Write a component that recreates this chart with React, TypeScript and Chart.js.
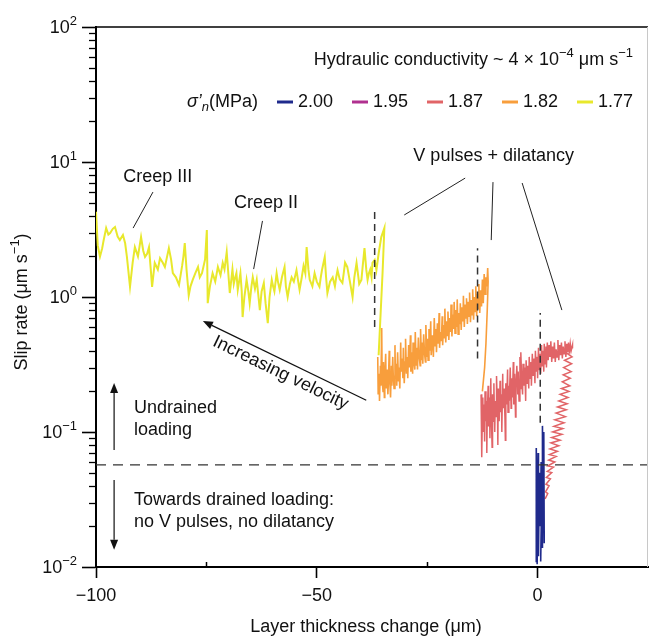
import { useEffect, useRef } from 'react';
import { Chart, registerables } from 'chart.js';

Chart.register(...registerables);

type Pt = [number, number];

// ---- data ----
const seriesLabels = ['2.00', '1.95', '1.87', '1.82', '1.77'];
const seriesColors = ['#1f2a8c', '#b0308f', '#e16467', '#f89e3c', '#e8e82c'];

const trace200: Pt[] = [
  [-0.2, 0.011], [-0.3, 0.076], [-0.1, 0.0105], [0.1, 0.07], [0.2, 0.012], [0.4, 0.05],
  [0.6, 0.02], [0.8, 0.06], [1.0, 0.014], [1.1, 0.111], [1.3, 0.02], [1.4, 0.1],
  [1.5, 0.015], [1.2, 0.08], [0.9, 0.03], [0.7, 0.011],
];

const trace195: Pt[] = [];

const trace187: Pt[] = [
  [-12.8, 0.19], [-12.7, 0.09], [-12.6, 0.065], [-12.5, 0.14], [-12.4, 0.18], [-12.3, 0.1],
  [-12.1, 0.16], [-12.0, 0.085], [-11.9, 0.2], [-11.7, 0.12], [-11.6, 0.17], [-11.5, 0.07],
  [-11.4, 0.13], [-11.2, 0.22], [-11.1, 0.11], [-10.9, 0.18], [-10.8, 0.09], [-10.6, 0.25],
  [-10.5, 0.14], [-10.3, 0.077], [-10.2, 0.19], [-10.0, 0.12], [-9.9, 0.23], [-9.7, 0.1],
  [-9.6, 0.17], [-9.4, 0.13], [-9.3, 0.26], [-9.1, 0.15], [-9.0, 0.08], [-8.9, 0.21],
  [-8.7, 0.12], [-8.5, 0.24], [-8.4, 0.14], [-8.2, 0.19], [-8.1, 0.1], [-7.9, 0.27],
  [-7.8, 0.15], [-7.6, 0.21], [-7.4, 0.13], [-7.3, 0.087], [-7.2, 0.23], [-7.0, 0.16],
  [-6.8, 0.29], [-6.7, 0.14], [-6.5, 0.22], [-6.4, 0.17], [-6.2, 0.3], [-6.0, 0.15],
  [-5.9, 0.25], [-5.7, 0.18], [-5.5, 0.33], [-5.4, 0.16], [-5.2, 0.27], [-5.0, 0.129],
  [-4.9, 0.22], [-4.7, 0.31], [-4.5, 0.19], [-4.4, 0.28], [-4.2, 0.17], [-4.0, 0.36],
  [-3.9, 0.21], [-3.8, 0.39], [-3.6, 0.24], [-3.4, 0.19], [-3.3, 0.32], [-3.1, 0.22],
  [-2.9, 0.3], [-2.7, 0.17], [-2.6, 0.34], [-2.4, 0.23], [-2.2, 0.31], [-2.0, 0.21],
  [-1.9, 0.36], [-1.7, 0.25], [-1.5, 0.33], [-1.4, 0.22], [-1.2, 0.38], [-1.0, 0.26],
  [-0.8, 0.35], [-0.6, 0.23], [-0.5, 0.4], [-0.3, 0.28], [-0.1, 0.36], [0.0, 0.25],
  [0.2, 0.42], [0.4, 0.29], [0.5, 0.38], [0.7, 0.27], [0.9, 0.44], [1.0, 0.31],
  [1.2, 0.4], [1.4, 0.28], [1.5, 0.45], [1.7, 0.32], [1.9, 0.43], [2.0, 0.3],
  [2.2, 0.46], [2.4, 0.34], [2.6, 0.44],
  [2.8, 0.36], [3.0, 0.47], [3.2, 0.33], [3.4, 0.43], [3.6, 0.35], [3.8, 0.46],
  [4.0, 0.33], [4.2, 0.41], [4.4, 0.36], [4.6, 0.48], [4.8, 0.34], [5.0, 0.44],
  [5.2, 0.37], [5.4, 0.46], [5.6, 0.35], [5.8, 0.43], [6.0, 0.38], [6.2, 0.47],
  [6.4, 0.36], [6.6, 0.45], [6.8, 0.39], [7.0, 0.46], [7.2, 0.38], [7.4, 0.45],
  [7.6, 0.4], [7.9, 0.44],
  [7.9, 0.42], [6.3, 0.39], [7.8, 0.36], [6.1, 0.34], [7.7, 0.32], [5.9, 0.3],
  [7.6, 0.28], [5.8, 0.265], [7.4, 0.25], [5.6, 0.235], [7.3, 0.22], [5.4, 0.21],
  [7.1, 0.2], [5.1, 0.19], [6.9, 0.18], [4.8, 0.17], [6.7, 0.162], [4.5, 0.153],
  [6.5, 0.146], [4.2, 0.138], [6.3, 0.13], [3.9, 0.123], [6.0, 0.117], [3.7, 0.11],
  [5.7, 0.106], [3.4, 0.1], [5.5, 0.096], [3.2, 0.091], [5.1, 0.087], [3.0, 0.083],
  [4.8, 0.079], [2.8, 0.075], [4.5, 0.072], [2.7, 0.068], [4.2, 0.066], [2.5, 0.062],
  [3.9, 0.06], [2.3, 0.056], [3.6, 0.055], [2.2, 0.051], [3.2, 0.05], [2.0, 0.046],
  [2.9, 0.045], [1.9, 0.041], [2.6, 0.04], [1.8, 0.036], [2.3, 0.035], [1.7, 0.032],
];

const trace182: Pt[] = [
  [-36.2, 0.36], [-36.1, 0.19], [-35.9, 0.27], [-35.8, 0.17], [-35.6, 0.31], [-35.5, 0.22],
  [-35.3, 0.59], [-35.2, 0.24], [-35.0, 0.2], [-34.9, 0.33], [-34.7, 0.18], [-34.6, 0.26],
  [-34.4, 0.38], [-34.3, 0.21], [-34.1, 0.29], [-33.9, 0.19], [-33.8, 0.23], [-33.6, 0.4],
  [-33.5, 0.25], [-33.3, 0.18], [-33.1, 0.31], [-33.0, 0.22], [-32.8, 0.36], [-32.7, 0.27],
  [-32.5, 0.21], [-32.3, 0.44], [-32.2, 0.26], [-32.0, 0.32], [-31.9, 0.22], [-31.7, 0.39],
  [-31.5, 0.24], [-31.4, 0.3], [-31.2, 0.21], [-31.0, 0.46], [-30.9, 0.28], [-30.7, 0.35],
  [-30.5, 0.25], [-30.4, 0.42], [-30.2, 0.23], [-30.0, 0.33], [-29.9, 0.49], [-29.7, 0.27],
  [-29.5, 0.36], [-29.4, 0.25], [-29.2, 0.44], [-29.0, 0.3], [-28.8, 0.52], [-28.7, 0.28],
  [-28.5, 0.39], [-28.3, 0.27], [-28.2, 0.46], [-28.0, 0.33], [-27.8, 0.29], [-27.7, 0.55],
  [-27.5, 0.31], [-27.3, 0.42], [-27.2, 0.29], [-27.0, 0.5], [-26.8, 0.36], [-26.6, 0.31],
  [-26.5, 0.58], [-26.3, 0.34], [-26.1, 0.46], [-26.0, 0.32], [-25.8, 0.53], [-25.6, 0.38],
  [-25.4, 0.33], [-25.3, 0.62], [-25.1, 0.36], [-24.9, 0.49], [-24.8, 0.34], [-24.6, 0.58],
  [-24.4, 0.4], [-24.2, 0.66], [-24.1, 0.37], [-23.9, 0.52], [-23.7, 0.42], [-23.6, 0.36],
  [-23.4, 0.7], [-23.2, 0.43], [-23.0, 0.58], [-22.9, 0.39], [-22.7, 0.64], [-22.5, 0.45],
  [-22.3, 0.76], [-22.2, 0.42], [-22.0, 0.55], [-21.8, 0.47], [-21.6, 0.72], [-21.5, 0.44],
  [-21.3, 0.62], [-21.1, 0.5], [-21.0, 0.82], [-20.8, 0.46], [-20.6, 0.66], [-20.4, 0.52],
  [-20.3, 0.78], [-20.1, 0.48], [-19.9, 0.7], [-19.7, 0.55], [-19.6, 0.88], [-19.4, 0.51],
  [-19.2, 0.74], [-19.0, 0.58], [-18.9, 0.92], [-18.7, 0.54], [-18.5, 0.8], [-18.3, 0.6],
  [-18.2, 0.96], [-18.0, 0.53], [-17.8, 0.76], [-17.6, 0.63], [-17.5, 0.9], [-17.3, 0.57],
  [-17.1, 0.84], [-16.9, 0.66], [-16.8, 1.02], [-16.6, 0.6], [-16.4, 0.88], [-16.2, 0.7],
  [-16.1, 0.98], [-15.9, 0.63], [-15.7, 0.92], [-15.5, 0.72], [-15.4, 1.08], [-15.2, 0.65],
  [-15.0, 0.95], [-14.8, 0.74], [-14.7, 1.14], [-14.5, 0.68], [-14.3, 1.0], [-14.1, 0.78],
  [-14.0, 1.2], [-13.8, 0.72], [-13.6, 1.05], [-13.4, 0.82], [-13.3, 1.25], [-13.1, 0.76],
  [-12.9, 1.12], [-12.7, 0.85], [-12.5, 1.35], [-12.3, 0.9], [-12.1, 1.48], [-11.9, 1.05],
  [-11.7, 1.4], [-11.5, 1.2], [-11.3, 1.64], [-11.2, 1.3], [-11.4, 0.8], [-11.7, 0.45],
  [-12.0, 0.3], [-12.5, 0.2],
];

const trace177: Pt[] = [
  [-100.0, 4.28], [-99.6, 2.4], [-99.1, 1.99], [-98.6, 2.3], [-98.3, 2.6], [-97.7, 3.24],
  [-97.2, 2.9], [-96.8, 2.98], [-96.2, 3.2], [-95.7, 3.3], [-95.1, 2.8], [-94.6, 2.64],
  [-93.9, 2.88], [-93.4, 2.5], [-93.0, 1.98], [-92.3, 1.19], [-91.7, 1.8], [-91.2, 2.34],
  [-90.5, 2.0], [-89.8, 2.78], [-89.3, 2.2], [-88.9, 1.98], [-88.4, 2.1], [-88.0, 2.34],
  [-87.6, 1.6], [-87.3, 1.19], [-86.7, 1.79], [-86.0, 1.6], [-85.5, 1.94], [-84.9, 1.8],
  [-84.4, 1.67], [-83.5, 2.3], [-83.0, 1.9], [-82.6, 1.5], [-81.9, 1.4], [-81.2, 1.23],
  [-80.5, 1.7], [-80.2, 2.0], [-79.9, 2.51], [-79.5, 1.6], [-79.0, 1.03], [-78.6, 1.2],
  [-78.1, 1.34], [-77.5, 1.5], [-76.9, 1.67], [-76.5, 1.4], [-76.0, 1.5], [-75.3, 1.9],
  [-74.9, 3.13], [-74.7, 0.9], [-74.2, 1.2], [-73.6, 1.5], [-73.0, 1.3], [-72.4, 1.67],
  [-71.8, 1.45], [-71.3, 1.79], [-70.9, 1.6], [-70.4, 2.15], [-69.7, 1.07], [-69.1, 1.6],
  [-68.8, 1.25], [-68.6, 1.34], [-68.2, 1.5], [-67.9, 1.13], [-67.6, 1.3], [-67.3, 1.5],
  [-67.0, 1.1], [-66.8, 0.71], [-66.4, 1.0], [-65.9, 1.34], [-65.5, 1.1], [-65.2, 0.9],
  [-64.8, 1.2], [-64.5, 1.4], [-64.0, 1.15], [-63.6, 1.34], [-63.2, 1.0], [-62.9, 0.8],
  [-62.5, 1.1], [-62.0, 1.27], [-61.6, 0.9], [-61.1, 0.64], [-60.7, 1.0], [-60.2, 1.34],
  [-59.9, 1.2], [-59.6, 1.1], [-59.1, 1.5], [-58.8, 1.3], [-58.4, 1.13], [-57.9, 1.4],
  [-57.3, 1.67], [-57.0, 1.2], [-56.6, 1.0], [-56.1, 1.25], [-55.7, 1.4], [-55.2, 1.3],
  [-54.6, 1.58], [-54.2, 1.3], [-53.9, 1.13], [-53.4, 1.4], [-53.0, 1.7], [-52.6, 1.5],
  [-52.3, 2.34], [-51.9, 1.6], [-51.6, 1.34], [-51.0, 1.2], [-50.5, 1.5], [-50.0, 1.3],
  [-49.4, 1.19], [-49.1, 1.4], [-48.8, 1.6], [-48.2, 1.98], [-47.9, 1.4], [-47.6, 1.07],
  [-47.0, 1.3], [-46.4, 1.4], [-45.9, 1.2], [-45.6, 1.4], [-45.3, 1.58], [-44.8, 1.35],
  [-44.2, 1.27], [-43.9, 1.5], [-43.6, 1.8], [-43.1, 1.67], [-42.5, 1.3], [-41.9, 1.0],
  [-41.5, 1.4], [-41.0, 1.79], [-40.7, 1.5], [-40.4, 1.25], [-39.9, 1.34], [-39.6, 1.7],
  [-39.2, 2.3], [-38.8, 1.6], [-38.5, 1.34], [-38.2, 1.5], [-37.9, 1.6], [-37.6, 1.4],
  [-37.4, 1.79], [-36.9, 1.88], [-36.5, 1.58], [-36.0, 2.1], [-35.4, 2.78], [-34.7, 3.24],
  [-35.1, 1.53], [-36.0, 0.37],
];

const xTicks = [-100, -50, 0];
const xTickLabels = ['−100', '−50', '0'];
const xMinorTicks = [-75, -25];
const yTicks = [0.01, 0.1, 1, 10, 100];
const yTickExponents = ['−2', '−1', '0', '1', '2'];

const drainedThreshold = 0.057;
const pulseMarks: [number, number, number][] = [
  [-36.9, 0.6, 4.3],
  [-13.6, 0.35, 2.3],
  [0.6, 0.117, 0.76],
];

// ---- drawing helpers ----
const FONT = '"Liberation Sans", Arial, Helvetica, sans-serif';
const INK = '#111';

type Part = { t: string; sup?: boolean; sub?: boolean; italic?: boolean };

function rich(
  ctx: CanvasRenderingContext2D,
  x: number,
  y: number,
  parts: Part[],
  align: 'left' | 'right' | 'center',
  size = 18,
  angle = 0,
) {
  ctx.save();
  ctx.translate(x, y);
  if (angle) ctx.rotate(angle);
  const fontFor = (p: Part) =>
    `${p.italic ? 'italic ' : ''}${p.sup || p.sub ? Math.round(size * 0.7) : size}px ${FONT}`;
  let total = 0;
  for (const p of parts) {
    ctx.font = fontFor(p);
    total += ctx.measureText(p.t).width;
  }
  let cx = align === 'left' ? 0 : align === 'right' ? -total : -total / 2;
  ctx.textBaseline = 'middle';
  ctx.textAlign = 'left';
  ctx.fillStyle = INK;
  for (const p of parts) {
    ctx.font = fontFor(p);
    const dy = p.sup ? -size * 0.36 : p.sub ? size * 0.3 : 0;
    ctx.fillText(p.t, cx, dy);
    cx += ctx.measureText(p.t).width;
  }
  ctx.restore();
}

function seg(ctx: CanvasRenderingContext2D, x1: number, y1: number, x2: number, y2: number, w = 1, color = '#222') {
  ctx.save();
  ctx.strokeStyle = color;
  ctx.lineWidth = w;
  ctx.beginPath();
  ctx.moveTo(x1, y1);
  ctx.lineTo(x2, y2);
  ctx.stroke();
  ctx.restore();
}

function arrow(ctx: CanvasRenderingContext2D, x1: number, y1: number, x2: number, y2: number) {
  const ang = Math.atan2(y2 - y1, x2 - x1);
  const L = 10;
  const W = 4;
  const bx = x2 - L * Math.cos(ang);
  const by = y2 - L * Math.sin(ang);
  seg(ctx, x1, y1, bx, by, 1.2, '#111');
  ctx.save();
  ctx.fillStyle = '#111';
  ctx.beginPath();
  ctx.moveTo(x2, y2);
  ctx.lineTo(bx - W * Math.sin(ang), by + W * Math.cos(ang));
  ctx.lineTo(bx + W * Math.sin(ang), by - W * Math.cos(ang));
  ctx.closePath();
  ctx.fill();
  ctx.restore();
}

const overlayPlugin = {
  id: 'overlay',
  afterDraw(chart: any) {
    const ctx: CanvasRenderingContext2D = chart.ctx;
    const xs = chart.scales.x;
    const ys = chart.scales.y;
    const ca = chart.chartArea;
    const X = (v: number) => xs.getPixelForValue(v);
    const Y = (v: number) => ys.getPixelForValue(v);

    // frame: top border and light right edge
    seg(ctx, ca.left, ca.top, ca.right, ca.top, 1.6, '#000');
    seg(ctx, ca.right - 0.5, ca.top, ca.right - 0.5, ca.bottom, 1, '#c8c8c8');

    // y minor ticks
    for (let e = -2; e < 2; e++) {
      for (let m = 2; m <= 9; m++) {
        const py = Math.round(Y(m * Math.pow(10, e))) + 0.5;
        seg(ctx, ca.left - 7, py, ca.left, py, 1.3, '#000');
      }
    }
    // x minor ticks (inward)
    for (const v of xMinorTicks) {
      const px = Math.round(X(v)) + 0.5;
      seg(ctx, px, ca.bottom, px, ca.bottom - 5, 1.5, '#000');
    }

    // y tick labels
    yTicks.forEach((v, i) => {
      rich(ctx, ca.left - 19, Y(v) + 1, [{ t: '10' }, { t: yTickExponents[i], sup: true }], 'right', 18);
    });
    // x tick labels
    xTicks.forEach((v, i) => {
      rich(ctx, X(v), ca.bottom + 29, [{ t: xTickLabels[i] }], 'center', 18);
    });

    // axis titles
    rich(ctx, ca.left + 270, ca.bottom + 60, [{ t: 'Layer thickness change (μm)' }], 'center', 18);
    rich(ctx, 22, 302, [{ t: 'Slip rate (μm s' }, { t: '−1', sup: true }, { t: ')' }], 'center', 18, -Math.PI / 2);

    // header text
    rich(
      ctx,
      ca.right - 15,
      ca.top + 33,
      [
        { t: 'Hydraulic conductivity ~ 4 × 10' },
        { t: '−4', sup: true },
        { t: ' μm s' },
        { t: '−1', sup: true },
      ],
      'right',
      18,
    );

    // legend
    const ly = ca.top + 75;
    rich(ctx, ca.left + 91, ly, [{ t: 'σ’', italic: true }, { t: 'n', italic: true, sub: true }, { t: '(MPa)' }], 'left', 18);
    seriesLabels.forEach((lab, i) => {
      const x0 = ca.left + 181 + 75 * i;
      seg(ctx, x0, ly, x0 + 16, ly, 3, seriesColors[i]);
      rich(ctx, x0 + 21, ly, [{ t: lab }], 'left', 18);
    });

    // creep labels
    rich(ctx, X(-86.0), Y(7.74), [{ t: 'Creep III' }], 'center', 18);
    seg(ctx, X(-87.1), Y(5.99), X(-91.6), Y(3.24));
    rich(ctx, X(-61.5), Y(4.93), [{ t: 'Creep II' }], 'center', 18);
    seg(ctx, X(-62.3), Y(3.66), X(-64.3), Y(1.61));

    // V pulses + dilatancy
    rich(ctx, X(-9.95), Y(11.08), [{ t: 'V pulses + dilatancy' }], 'center', 18);
    seg(ctx, X(-16.4), Y(7.6), X(-30.2), Y(4.05));
    seg(ctx, X(-10.1), Y(7.1), X(-10.5), Y(2.64));
    seg(ctx, X(-3.5), Y(6.99), X(5.5), Y(0.8));

    // Increasing velocity arrow
    const ax1 = X(-38.8), ay1 = Y(0.172), ax2 = X(-75.8), ay2 = Y(0.664);
    arrow(ctx, ax1, ay1, ax2, ay2);
    const ang = Math.atan2(ay1 - ay2, ax1 - ax2);
    rich(ctx, X(-58.2), Y(0.2735), [{ t: 'Increasing velocity' }], 'center', 18, ang);

    // drained / undrained annotation
    arrow(ctx, X(-95.9), Y(0.0736), X(-95.9), Y(0.231));
    arrow(ctx, X(-95.9), Y(0.0441), X(-95.9), Y(0.0134));
    rich(ctx, X(-91.4), Y(0.15), [{ t: 'Undrained' }], 'left', 18);
    rich(ctx, X(-91.4), Y(0.103), [{ t: 'loading' }], 'left', 18);
    rich(ctx, X(-91.4), Y(0.0313), [{ t: 'Towards drained loading:' }], 'left', 18);
    rich(ctx, X(-91.4), Y(0.0215), [{ t: 'no V pulses, no dilatancy' }], 'left', 18);
  },
};

export default function App() {
  const ref = useRef<HTMLCanvasElement | null>(null);

  useEffect(() => {
    if (!ref.current) return;
    const toXY = (pts: Pt[]) => pts.map(([x, y]) => ({ x, y }));
    const traces = [trace200, trace195, trace187, trace182, trace177];
    const widths = [1.6, 1.6, 1.5, 1.6, 2];

    const dataSets: any[] = traces.map((t, i) => ({
      label: seriesLabels[i],
      data: toXY(t),
      borderColor: seriesColors[i],
      borderWidth: widths[i],
      pointRadius: 0,
      tension: 0,
      fill: false,
      order: i + 1,
    }));

    pulseMarks.forEach(([x, y0, y1]) => {
      dataSets.push({
        label: 'pulse',
        data: [{ x, y: y0 }, { x, y: y1 }],
        borderColor: '#333',
        borderWidth: 1.5,
        borderDash: [7, 5],
        pointRadius: 0,
        order: 0,
      });
    });
    dataSets.push({
      label: 'threshold',
      data: [{ x: -100, y: drainedThreshold }, { x: 25, y: drainedThreshold }],
      borderColor: '#333',
      borderWidth: 1.3,
      borderDash: [10, 7],
      pointRadius: 0,
      order: 0,
    });

    const chart = new Chart(ref.current, {
      type: 'line',
      data: { datasets: dataSets },
      options: {
        animation: false,
        responsive: false,
        maintainAspectRatio: false,
        layout: { padding: { top: 27, right: 1, left: 0, bottom: 0 } },
        plugins: { legend: { display: false }, tooltip: { enabled: false } },
        scales: {
          x: {
            type: 'linear',
            min: -100,
            max: 25,
            afterBuildTicks: (s: any) => {
              s.ticks = xTicks.map((v) => ({ value: v }));
            },
            afterFit: (s: any) => {
              s.height = 70;
            },
            ticks: { display: false },
            grid: {
              display: true,
              drawOnChartArea: false,
              drawTicks: true,
              tickLength: 11,
              tickColor: '#000',
              tickWidth: 1.6,
            },
            border: { display: true, color: '#000', width: 2 },
          },
          y: {
            type: 'logarithmic',
            min: 0.01,
            max: 100,
            afterBuildTicks: (s: any) => {
              s.ticks = yTicks.map((v) => ({ value: v }));
            },
            afterFit: (s: any) => {
              s.width = 96;
            },
            ticks: { display: false },
            grid: {
              display: true,
              drawOnChartArea: false,
              drawTicks: true,
              tickLength: 14,
              tickColor: '#000',
              tickWidth: 1.6,
            },
            border: { display: true, color: '#000', width: 2 },
          },
        },
      } as any,
      plugins: [overlayPlugin],
    });
    return () => chart.destroy();
  }, []);

  return (
    <div style={{ position: 'fixed', left: 0, top: 0, width: 649, height: 637, background: '#fff' }}>
      <canvas ref={ref} width={649} height={637} style={{ display: 'block', width: 649, height: 637 }} />
    </div>
  );
}
